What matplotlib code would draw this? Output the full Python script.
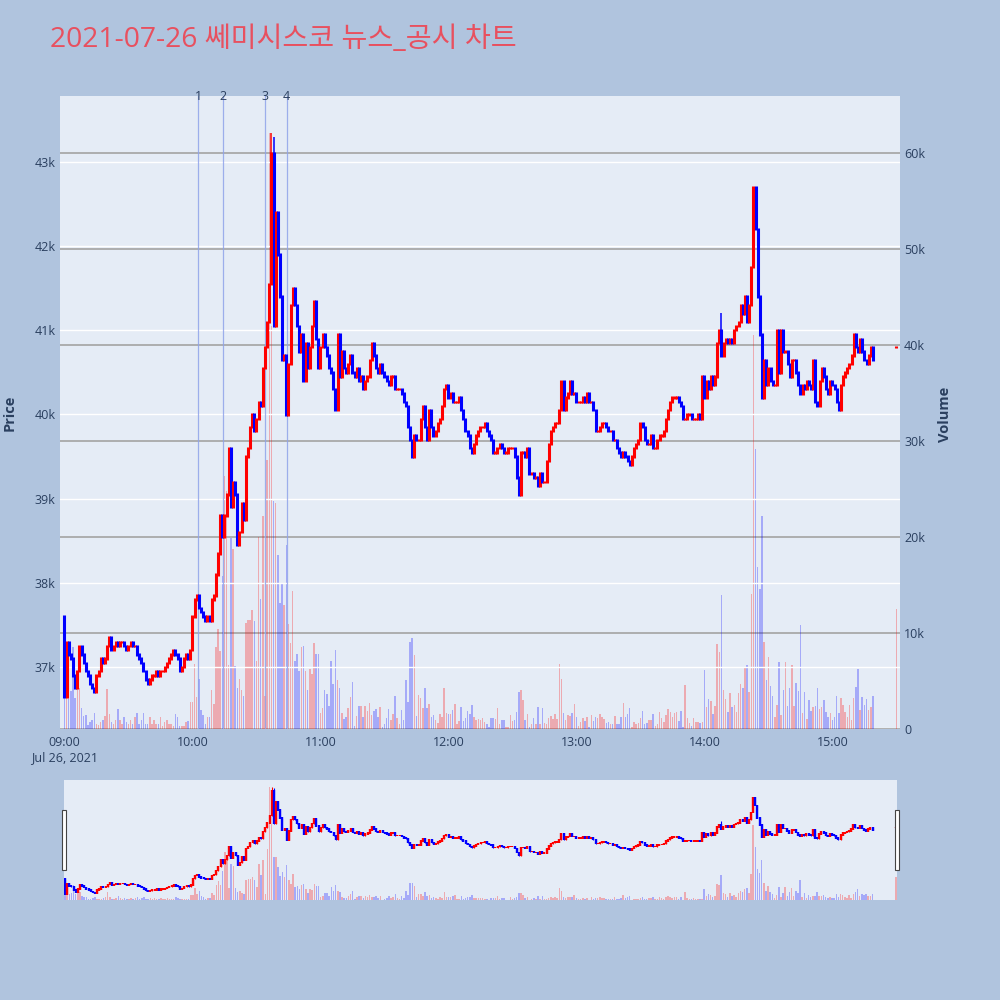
import numpy as np
import matplotlib.pyplot as plt
from matplotlib.patches import Rectangle
from matplotlib.ticker import FuncFormatter
import matplotlib.transforms as mtransforms

plt.rcParams['font.family'] = ['Open Sans', 'Noto Sans CJK KR', 'DejaVu Sans']

# 1-minute closes, one list per hour (09:00 .. 15:19)
first_open = 37600
closes_09 = [36650, 37300, 37150, 37100, 36900, 36750, 36950, 37250, 37150, 37050,
             36950, 36900, 36800, 36750, 36700, 36900, 36950, 37100, 37050, 37100,
             37250, 37350, 37200, 37250, 37300, 37250, 37300, 37300, 37250, 37200,
             37250, 37300, 37250, 37250, 37150, 37100, 37050, 36950, 36850, 36800,
             36850, 36900, 36900, 36950, 36900, 36950, 36950, 37000, 37050, 37100,
             37150, 37200, 37150, 37100, 36950, 37000, 37100, 37150, 37100, 37200]
closes_10 = [37600, 37800, 37850, 37700, 37650, 37600, 37550, 37600, 37550, 37800,
             37850, 38100, 38350, 38800, 38550, 38800, 39050, 39600, 38900, 39200,
             39050, 38450, 38600, 38950, 38750, 39500, 39600, 39850, 40000, 39800,
             39950, 40150, 40100, 40550, 40800, 41100, 41550, 43100, 41050, 42400,
             41900, 41400, 40650, 40700, 40000, 40600, 41300, 41500, 41300, 41050,
             40750, 40950, 40400, 40850, 40550, 40800, 41050, 41350, 40900, 40550]
closes_11 = [40800, 40950, 40800, 40700, 40550, 40500, 40300, 40050, 40950, 40450,
             40750, 40550, 40500, 40600, 40700, 40500, 40450, 40550, 40400, 40450,
             40300, 40400, 40450, 40650, 40850, 40700, 40550, 40500, 40600, 40500,
             40450, 40400, 40350, 40450, 40450, 40300, 40300, 40300, 40250, 40150,
             40100, 39850, 39700, 39500, 39750, 39700, 39700, 39950, 40100, 39850,
             39700, 40050, 39850, 39750, 39800, 39900, 39950, 40100, 40300, 40350]
closes_12 = [40200, 40250, 40150, 40150, 40150, 40200, 40050, 39950, 39800, 39750,
             39600, 39550, 39650, 39750, 39800, 39850, 39850, 39900, 39800, 39750,
             39700, 39550, 39550, 39600, 39650, 39600, 39550, 39550, 39600, 39600,
             39600, 39500, 39250, 39050, 39550, 39550, 39500, 39600, 39300, 39300,
             39250, 39250, 39150, 39300, 39200, 39200, 39450, 39650, 39800, 39850,
             39900, 39900, 40050, 40400, 40050, 40200, 40250, 40400, 40250, 40250]
closes_13 = [40150, 40150, 40150, 40200, 40150, 40250, 40150, 40150, 40050, 39800,
             39800, 39850, 39900, 39900, 39850, 39800, 39800, 39700, 39700, 39600,
             39550, 39500, 39550, 39500, 39450, 39400, 39500, 39600, 39650, 39700,
             39900, 39850, 39700, 39650, 39650, 39750, 39600, 39600, 39700, 39750,
             39750, 39800, 39950, 40050, 40150, 40200, 40200, 40200, 40150, 40100,
             39950, 39950, 40000, 40000, 39950, 39950, 39950, 40000, 39950, 40450]
closes_14 = [40200, 40400, 40300, 40450, 40350, 40450, 40850, 41000, 40700, 40850,
             40900, 40850, 40900, 40850, 41000, 41050, 41100, 41300, 41200, 41400,
             41100, 41300, 41750, 42700, 42200, 41400, 40950, 40200, 40650, 40350,
             40550, 40400, 40350, 40350, 41000, 40500, 41000, 40750, 40750, 40600,
             40450, 40650, 40650, 40500, 40350, 40250, 40350, 40300, 40400, 40350,
             40300, 40650, 40150, 40100, 40400, 40550, 40450, 40300, 40250, 40400]
closes_15 = [40350, 40300, 40150, 40050, 40350, 40450, 40500, 40550, 40600, 40700,
             40950, 40800, 40750, 40900, 40750, 40650, 40600, 40700, 40800, 40650]

vol_09 = [3300, 4300, 3100, 4000, 8500, 3200, 5500, 4300, 2200, 1400,
          1500, 400, 700, 900, 1700, 500, 400, 700, 900, 1400,
          4200, 1600, 700, 500, 900, 2100, 900, 500, 1200, 700,
          500, 900, 500, 1200, 1700, 500, 900, 1700, 500, 500,
          1200, 500, 900, 500, 500, 1200, 300, 700, 900, 500,
          500, 300, 1600, 1200, 300, 300, 300, 700, 800, 2800]
vol_10 = [2800, 6800, 3300, 5200, 2000, 1500, 500, 1200, 1200, 4100,
          2600, 8500, 10400, 8100, 15900, 26300, 24800, 6700, 19900, 18700,
          6600, 4300, 5200, 4100, 3400, 11000, 11300, 11300, 12400, 11200,
          7100, 20000, 13500, 22200, 3400, 28000, 62000, 42000, 23700, 23500,
          18100, 13100, 15200, 12900, 19200, 10900, 9000, 14400, 7100, 7800,
          6000, 8500, 8600, 6000, 4100, 6200, 5700, 9000, 7800, 7800]
vol_11 = [1700, 2200, 4100, 3600, 2400, 7100, 4700, 8200, 5100, 4300,
          1700, 1000, 1200, 2200, 3300, 4900, 300, 1400, 2400, 2400,
          1200, 2400, 1900, 2700, 1500, 1900, 2100, 1200, 2300, 200,
          500, 1100, 2100, 900, 1600, 3400, 1100, 500, 2000, 900,
          5100, 2800, 9100, 9500, 7700, 1400, 3500, 3200, 2200, 4300,
          2200, 2600, 1200, 1500, 900, 600, 1600, 1300, 4300, 1700]
vol_12 = [1600, 1600, 2000, 2600, 500, 800, 2300, 800, 1100, 1900,
          1600, 2500, 1300, 900, 1000, 900, 1100, 700, 500, 200,
          1100, 1100, 1000, 2200, 500, 900, 900, 200, 200, 1500,
          800, 900, 1800, 3900, 4100, 3000, 900, 1600, 200, 500,
          1100, 500, 2300, 500, 2200, 600, 500, 1100, 1400, 1000,
          1600, 1000, 6800, 5200, 1700, 900, 1500, 1400, 1700, 2600]
vol_13 = [1300, 300, 700, 1100, 800, 1200, 200, 1500, 800, 1300,
          1100, 1600, 1200, 1000, 600, 700, 500, 500, 1400, 500,
          500, 1200, 2700, 1300, 1600, 2200, 200, 700, 500, 600,
          1100, 1900, 500, 600, 900, 900, 1600, 300, 500, 1800,
          1100, 700, 1500, 2100, 1800, 1300, 1700, 1800, 800, 1900,
          200, 4600, 1100, 600, 300, 1100, 700, 700, 600, 700]
vol_14 = [6100, 2300, 3100, 2900, 1600, 2400, 8800, 8000, 14000, 4100,
          3100, 1800, 3700, 2300, 2500, 1800, 3700, 4700, 4300, 6300,
          6700, 3800, 14100, 41000, 29100, 16900, 14600, 22200, 9100, 5100,
          7500, 4500, 3400, 1300, 2500, 7000, 1500, 4100, 7000, 2400,
          4300, 6700, 2400, 4800, 4000, 10800, 1700, 3800, 1000, 3000,
          1900, 2300, 2400, 4300, 2100, 2300, 3000, 1800, 1300, 1700]
vol_15 = [900, 1300, 3400, 1700, 3200, 2500, 1800, 1300, 2500, 900,
          3200, 4400, 6200, 2000, 3300, 2500, 3100, 2000, 2300, 3400]

# 15:30 closing auction
auction_minute = 390
auction_price = 40800
auction_volume = 12500

# highs that stick out of the bodies (minute index -> high)
wick_high = {97: 43350, 98: 43300, 308: 41200}

news_minutes = [62.7, 74.4, 94.2, 104.1]
news_labels = ['1', '2', '3', '4']

hour_ticks = [0, 60, 120, 180, 240, 300, 360]
hour_labels = ['09:00\nJul 26, 2021', '10:00', '11:00', '12:00', '13:00', '14:00', '15:00']
price_ticks = [37000, 38000, 39000, 40000, 41000, 42000, 43000]
vol_ticks = [0, 10000, 20000, 30000, 40000, 50000, 60000]

title = '2021-07-26 쎄미시스코 뉴스_공시 차트'

# ---- build candles
closes = closes_09 + closes_10 + closes_11 + closes_12 + closes_13 + closes_14 + closes_15
volumes = vol_09 + vol_10 + vol_11 + vol_12 + vol_13 + vol_14 + vol_15
opens = [first_open] + closes[:-1]
t = list(range(len(closes)))

t.append(auction_minute)
opens.append(auction_price)
closes.append(auction_price)
volumes.append(auction_volume)

t = np.array(t, dtype=float)
o = np.array(opens, dtype=float)
c = np.array(closes, dtype=float)
v = np.array(volumes, dtype=float)
hi = np.maximum(o, c)
lo = np.minimum(o, c)
for k, h in wick_high.items():
    hi[k] = h
up = c >= o
cols = np.where(up, '#ff0000', '#0000ff')

txt_col = '#2a3f5f'
plot_bg = '#e5ecf6'


def draw(axp, axv, body_lw, wick_lw, pad):
    # pad keeps flat (open == close) candles visible, like plotly's box outline
    axv.bar(t, v, width=0.7, color=cols, alpha=0.28, linewidth=0)
    axp.vlines(t, lo, hi, colors=cols, linewidth=wick_lw)
    axp.vlines(t, np.minimum(o, c) - pad, np.maximum(o, c) + pad,
               colors=cols, linewidth=body_lw)


fig = plt.figure(figsize=(10, 10), dpi=100)
fig.patch.set_facecolor('#b0c4de')

# ---- main chart
axv = fig.add_axes([0.06, 0.271, 0.84, 0.633])
axv.set_facecolor(plot_bg)
axp = axv.twinx()
draw(axp, axv, 2.2, 1.1, 14)

axv.set_xlim(-2.1, 391.7)
axv.set_ylim(0, 65900)
axp.set_ylim(36263, 43784)

kfmt = FuncFormatter(lambda x, pos: '0' if x == 0 else '%dk' % round(x / 1000))
axv.yaxis.tick_right()
axv.set_yticks(vol_ticks)
axv.yaxis.set_major_formatter(kfmt)
axp.yaxis.tick_left()
axp.set_yticks(price_ticks)
axp.yaxis.set_major_formatter(kfmt)

axv.set_axisbelow(True)
axv.grid(axis='y', color='#a9a9a9', linewidth=1.3)
axv.axhline(0, color='white', linewidth=1.6, zorder=0.5)
axp.grid(axis='y', color='white', linewidth=1.0)
axp.set_axisbelow(True)

axv.set_xticks(hour_ticks)
axv.set_xticklabels(hour_labels, fontsize=9, color=txt_col, linespacing=1.25)
for ax in (axv, axp):
    ax.tick_params(length=0, colors=txt_col, labelsize=9)
    for s in ax.spines.values():
        s.set_visible(False)
axv.tick_params(axis='x', pad=5)
axv.tick_params(axis='y', pad=3)
axp.tick_params(axis='y', pad=3)

trans = mtransforms.blended_transform_factory(axp.transData, axp.transAxes)
for m, lab in zip(news_minutes, news_labels):
    axp.axvline(m, color='#8fa3ea', linewidth=0.9, alpha=0.85, zorder=0.8)
    axp.text(m, 0.999, lab, transform=trans, ha='center', va='center',
             fontsize=9, color=txt_col)

fig.text(0.010, 0.587, 'Price', rotation=90, ha='center', va='center',
         fontsize=10.5, fontweight='bold', color=txt_col)
fig.text(0.945, 0.586, 'Volume', rotation=90, ha='center', va='center',
         fontsize=10.5, fontweight='bold', color=txt_col)

fig.text(0.05, 0.960, title, ha='left', va='center', fontsize=20.3, color='#e8505f')

# ---- range slider
sv = fig.add_axes([0.064, 0.100, 0.833, 0.120])
sv.set_facecolor(plot_bg)
sp = sv.twinx()
draw(sp, sv, 1.7, 0.8, 45)
sv.set_xlim(-0.5, 390.5)
sv.set_ylim(0, 65900)
sp.set_ylim(36263, 43784)
for ax in (sv, sp):
    ax.set_xticks([])
    ax.set_yticks([])
    for s in ax.spines.values():
        s.set_visible(False)

for x0 in (0.0615, 0.8950):
    fig.patches.append(Rectangle((x0, 0.130), 0.004, 0.060, transform=fig.transFigure,
                                 facecolor='white', edgecolor='#444444', linewidth=0.8))

fig.savefig('out.png', dpi=100, facecolor=fig.get_facecolor())
